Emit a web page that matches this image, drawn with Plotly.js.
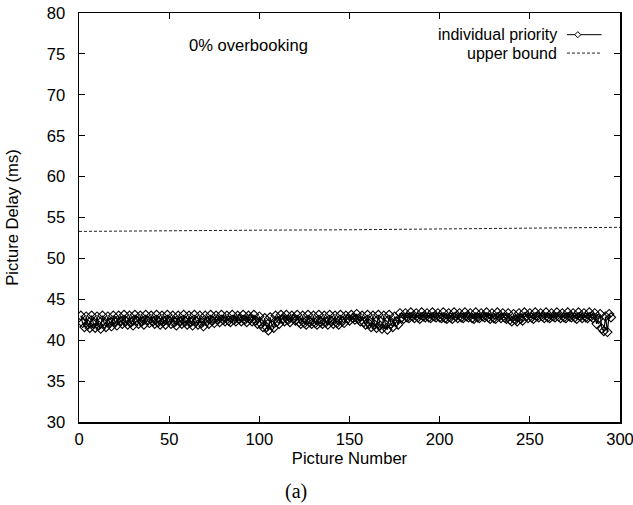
<!DOCTYPE html>
<html>
<head>
<meta charset="utf-8">
<script src="https://cdn.plot.ly/plotly-3.0.1.min.js"></script>
<style>
  html, body { margin: 0; padding: 0; background: #fff; }
  #chart { width: 633px; height: 505px; }
</style>
</head>
<body>
<div id="chart"></div>
<script>
// Picture delay (ms) per picture under individual priority, 0% overbooking
const priorityDelay = [
  43.0,42.1,41.6, 42.9,41.9,41.5, 43.0,42.0,41.5, 42.9,41.8,41.4, 43.0,42.0,41.6,
  42.9,42.1,41.7, 43.0,42.2,41.8, 43.0,42.3,42.0, 43.1,42.3,41.9, 43.0,42.2,41.8,
  43.1,42.4,42.0, 43.0,42.3,41.9, 43.1,42.4,42.1, 43.0,42.3,42.0, 43.1,42.2,41.9,
  43.0,42.3,41.9, 43.1,42.4,42.0, 43.0,42.2,41.8, 43.0,42.3,42.0, 43.1,42.3,41.9,
  43.0,42.2,41.8, 43.1,42.3,41.9, 43.0,42.1,41.7, 43.0,42.3,42.0, 43.1,42.4,42.1,
  43.0,42.5,42.2, 43.1,42.5,42.3, 43.0,42.4,42.2, 43.1,42.5,42.3, 43.0,42.6,42.3,
  43.1,42.5,42.2, 43.0,42.6,42.3, 43.1,42.4,42.0, 42.9,42.0,41.6, 42.7,41.6,41.2,
  42.8,41.8,41.5, 43.0,42.3,42.0, 43.1,42.6,42.3, 43.1,42.5,42.2, 43.0,42.6,42.4,
  43.1,42.2,42.0, 43.0,42.1,41.9, 43.1,42.2,42.0, 43.0,42.1,41.9, 43.1,42.2,42.0,
  43.0,42.2,41.9, 43.1,42.3,42.0, 43.0,42.1,41.9, 43.1,42.3,42.1, 43.0,42.6,42.4,
  43.1,42.7,42.5, 43.2,42.6,42.3, 43.0,42.2,41.9, 43.1,42.0,41.6, 43.0,41.9,41.5,
  43.1,41.8,41.4, 43.0,41.9,41.3, 43.1,42.0,41.6, 42.9,42.3,41.9, 43.3,42.8,42.6,
  43.3,42.8,42.7, 43.4,42.9,42.7, 43.3,42.8,42.6, 43.4,42.9,42.8, 43.3,42.8,42.7,
  43.4,42.9,42.8, 43.3,42.8,42.7, 43.4,42.7,42.6, 43.3,42.8,42.6, 43.4,42.9,42.7,
  43.3,42.8,42.7, 43.4,42.9,42.8, 43.3,42.7,42.6, 43.4,42.8,42.7, 43.3,42.9,42.8,
  43.4,42.8,42.6, 43.3,42.7,42.6, 43.4,42.9,42.7, 43.3,42.8,42.6, 43.3,42.5,42.3,
  43.2,42.5,42.3, 43.3,42.6,42.4, 43.4,42.9,42.7, 43.3,42.8,42.6, 43.4,42.9,42.8,
  43.3,42.9,42.7, 43.4,42.8,42.7, 43.3,42.9,42.8, 43.4,42.9,42.7, 43.3,42.8,42.7,
  43.4,42.9,42.8, 43.3,42.8,42.6, 43.4,42.9,42.7, 43.3,42.8,42.7, 43.4,42.9,42.7,
  43.3,42.0,42.6, 43.2,41.4,41.1, 42.9,41.0,43.2, 42.8
];
const pictureNumber = priorityDelay.map((_, i) => i + 1);

// Upper bound on picture delay (ms)
const boundPicture = [0, 50, 100, 150, 200, 250, 300];
const boundDelay   = [53.3, 53.4, 53.45, 53.5, 53.6, 53.7, 53.8];

const xTicks = [0, 50, 100, 150, 200, 250, 300];
const yTicks = [30, 35, 40, 45, 50, 55, 60, 65, 70, 75, 80];

const legendNames = ['individual priority', 'upper bound'];
const noteText = '0% overbooking';
const captionText = '(a)';

const FONT = 'Liberation Sans, Arial, Helvetica, sans-serif';
const TEXT_SIZE = 16.6;
const KEY_SIZE = 16;

const traces = [
  {
    x: pictureNumber, y: priorityDelay, name: legendNames[0],
    type: 'scatter', mode: 'lines+markers',
    line: { color: '#000', width: 1.2 },
    marker: { symbol: 'diamond-open', size: 7, color: '#000', line: { width: 1.1, color: '#000' } }
  },
  {
    x: boundPicture, y: boundDelay, name: legendNames[1],
    type: 'scatter', mode: 'lines',
    line: { color: '#222', width: 1, dash: '3px,2px' }
  }
];

// gnuplot-style key: text right-aligned, sample line to its right
const keyTextX = 0.888, keySampleX0 = 0.902, keySampleX1 = 0.966;
const keyY = [0.947, 0.902];

const layout = {
  width: 633, height: 505,
  margin: { l: 79, r: 13, t: 13, b: 83 },
  paper_bgcolor: '#fff', plot_bgcolor: '#fff',
  showlegend: false,
  font: { family: FONT, size: 16, color: '#000' },
  xaxis: {
    range: [0, 300], tickvals: xTicks, ticktext: xTicks.map(String),
    ticks: 'inside', ticklen: 6, tickwidth: 1, tickcolor: '#000',
    showline: true, linecolor: '#000', linewidth: 1.5, mirror: 'ticks',
    showgrid: false, zeroline: false,
    ticklabelstandoff: 2, ticklabeloverflow: 'allow',
    tickfont: { family: FONT, size: TEXT_SIZE, color: '#000' },
    title: { text: 'Picture Number', font: { family: FONT, size: TEXT_SIZE, color: '#000' }, standoff: 0 }
  },
  yaxis: {
    range: [30, 80], tickvals: yTicks, ticktext: yTicks.map(String),
    ticks: 'inside', ticklen: 6, tickwidth: 1, tickcolor: '#000',
    showline: true, linecolor: '#000', linewidth: 1.5, mirror: 'ticks',
    showgrid: false, zeroline: false,
    ticklabelstandoff: 9,
    tickfont: { family: FONT, size: TEXT_SIZE, color: '#000' },
    title: { text: 'Picture Delay (ms)', font: { family: FONT, size: TEXT_SIZE, color: '#000' }, standoff: 24 }
  },
  annotations: [
    { xref: 'x', yref: 'y', x: 94, y: 76.0, text: noteText, showarrow: false,
      xanchor: 'center', yanchor: 'middle', font: { family: FONT, size: TEXT_SIZE, color: '#000' } },
    { xref: 'paper', yref: 'paper', x: keyTextX, y: keyY[0], text: legendNames[0], showarrow: false,
      xanchor: 'right', yanchor: 'middle', font: { family: FONT, size: KEY_SIZE, color: '#000' } },
    { xref: 'paper', yref: 'paper', x: keyTextX, y: keyY[1], text: legendNames[1], showarrow: false,
      xanchor: 'right', yanchor: 'middle', font: { family: FONT, size: KEY_SIZE, color: '#000' } },
    { xref: 'paper', yref: 'paper', x: 0.401, y: -0.171, text: captionText, showarrow: false,
      xanchor: 'center', yanchor: 'middle',
      font: { family: 'Liberation Serif, Times New Roman, serif', size: 20, color: '#000' } }
  ],
  shapes: [
    { type: 'line', xref: 'paper', yref: 'paper', x0: keySampleX0, x1: keySampleX1, y0: keyY[0], y1: keyY[0],
      line: { color: '#000', width: 1 } },
    { type: 'path', xref: 'paper', yref: 'paper',
      path: (() => {
        const cx = (keySampleX0 + keySampleX1) / 2 - 0.012, cy = keyY[0];
        const dx = 0.0055, dy = 0.0075;
        return `M ${cx - dx} ${cy} L ${cx} ${cy + dy} L ${cx + dx} ${cy} L ${cx} ${cy - dy} Z`;
      })(),
      fillcolor: '#fff', line: { color: '#000', width: 1 } },
    { type: 'line', xref: 'paper', yref: 'paper', x0: keySampleX0, x1: keySampleX1, y0: keyY[1], y1: keyY[1],
      line: { color: '#222', width: 1, dash: '3px,2px' } }
  ]
};

Plotly.newPlot('chart', traces, layout, { staticPlot: true, displayModeBar: false });
</script>
</body>
</html>
